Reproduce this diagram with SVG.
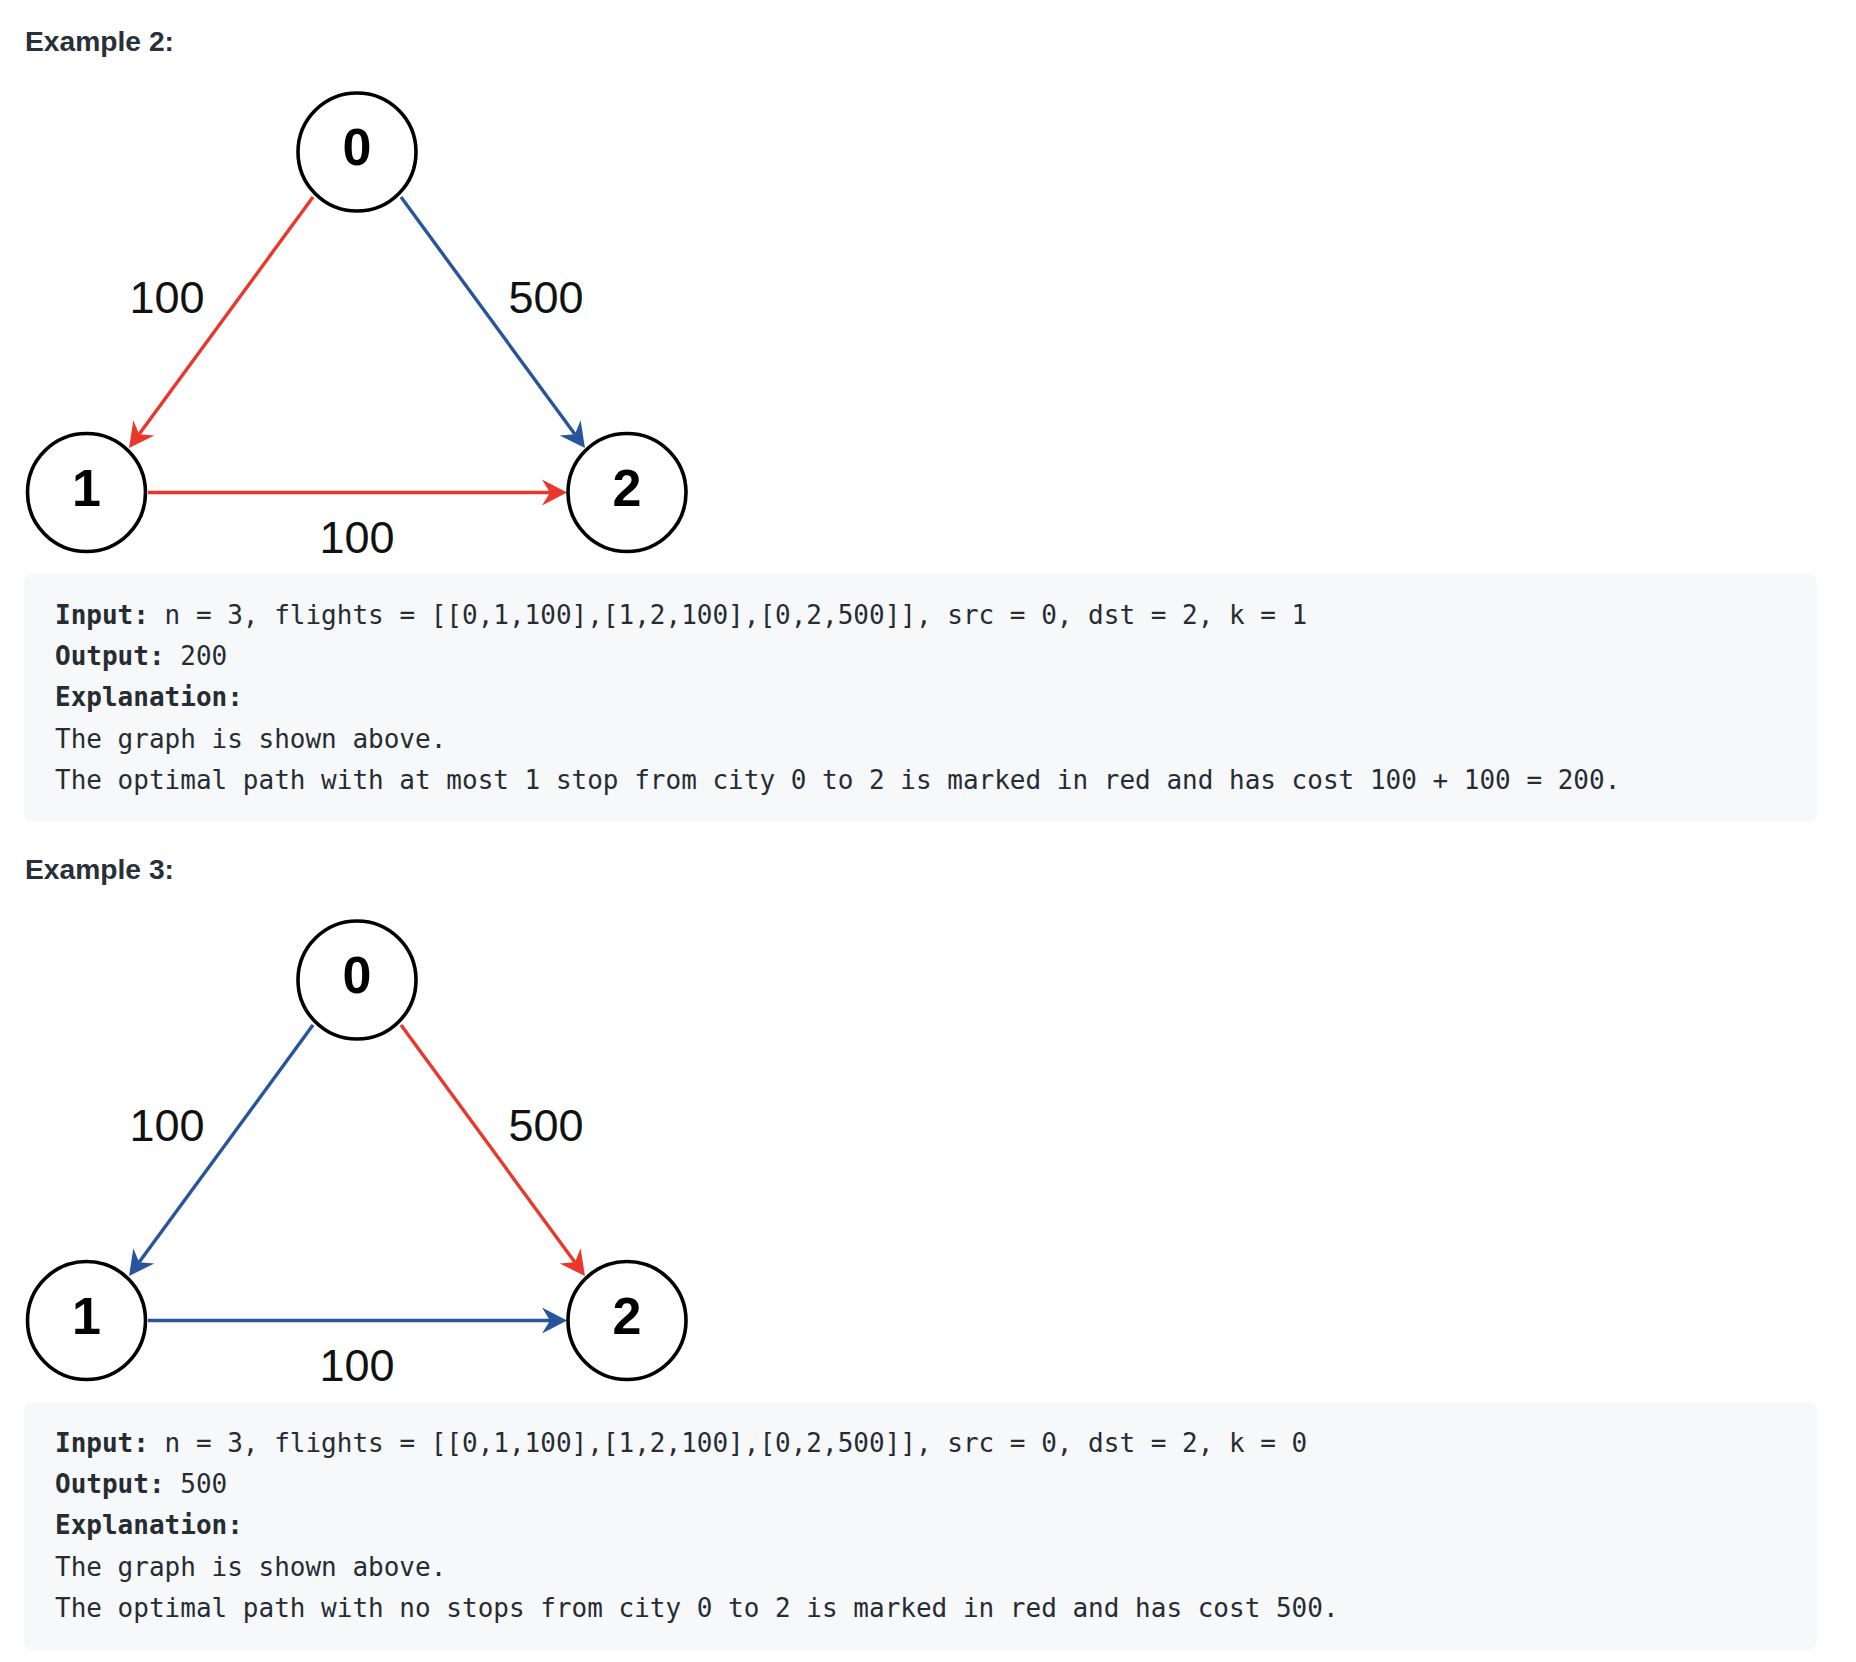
<svg xmlns="http://www.w3.org/2000/svg" width="1856" height="1662" viewBox="0 0 1856 1662">
  <style>
    .hdr { font-family: "Liberation Sans", Arial, sans-serif; font-weight: bold; font-size: 27px; fill: #283038; }
    .node circle { fill: #ffffff; stroke: #000000; stroke-width: 3.6; }
    .node text { font-family: "Liberation Sans", Arial, sans-serif; font-weight: bold; font-size: 52px; fill: #000000; text-anchor: middle; }
    .lbl { font-family: "Liberation Sans", Arial, sans-serif; font-size: 45px; fill: #111111; text-anchor: middle; }
    .red { stroke: #e9382b; stroke-width: 3.4; fill: none; marker-end: url(#ahRed); }
    .blue { stroke: #27549b; stroke-width: 3.4; fill: none; marker-end: url(#ahBlue); }
    .box { fill: #f7f8fa; }
    .code { font-family: "DejaVu Sans Mono", "Liberation Mono", monospace; font-size: 26px; fill: #262c33; }
    .b { font-weight: bold; }
  </style>
  <defs>
    <marker id="ahRed" markerUnits="userSpaceOnUse" viewBox="-26 -14 27 28" refX="-17" refY="0" markerWidth="27" markerHeight="28" orient="auto">
      <path d="M0,0 L-25,-13 L-17,0 L-25,13 Z" fill="#e9382b"/>
    </marker>
    <marker id="ahBlue" markerUnits="userSpaceOnUse" viewBox="-26 -14 27 28" refX="-17" refY="0" markerWidth="27" markerHeight="28" orient="auto">
      <path d="M0,0 L-25,-13 L-17,0 L-25,13 Z" fill="#27549b"/>
    </marker>
  </defs>

  <rect width="1856" height="1662" fill="#ffffff"/>

  <!-- Example 2 -->
  <text class="hdr" x="25" y="51" textLength="149" lengthAdjust="spacingAndGlyphs">Example 2:</text>

  <g id="connectors-ex2">
    <line class="red" x1="313" y1="197" x2="139.1" y2="434.3"/>
    <line class="blue" x1="401" y1="197" x2="574.9" y2="434.3"/>
    <line class="red" x1="148" y1="492.5" x2="550" y2="492.5"/>
    <text class="lbl" x="167" y="313">100</text>
    <text class="lbl" x="546" y="313">500</text>
    <text class="lbl" x="357" y="553">100</text>
  </g>

  <g id="ex2-node0" class="node">
    <circle cx="357" cy="152" r="59"/>
    <text x="357" y="165">0</text>
  </g>
  <g id="ex2-node1" class="node">
    <circle cx="86.5" cy="492.5" r="59"/>
    <text x="86.5" y="506">1</text>
  </g>
  <g id="ex2-node2" class="node">
    <circle cx="627" cy="492.5" r="59"/>
    <text x="627" y="506">2</text>
  </g>

  <g id="ex2-code">
    <rect class="box" x="24" y="574" width="1793" height="248" rx="8" ry="8"/>
    <text class="code" x="55" y="623.5" xml:space="preserve"><tspan class="b">Input:</tspan> n = 3, flights = [[0,1,100],[1,2,100],[0,2,500]], src = 0, dst = 2, k = 1</text>
    <text class="code" x="55" y="664.9" xml:space="preserve"><tspan class="b">Output:</tspan> 200</text>
    <text class="code b" x="55" y="706.3">Explanation:</text>
    <text class="code" x="55" y="747.7">The graph is shown above.</text>
    <text class="code" x="55" y="789.1">The optimal path with at most 1 stop from city 0 to 2 is marked in red and has cost 100 + 100 = 200.</text>
  </g>

  <!-- Example 3 -->
  <text class="hdr" x="25" y="879" textLength="149" lengthAdjust="spacingAndGlyphs">Example 3:</text>

  <g id="connectors-ex3">
    <line class="blue" x1="313" y1="1025" x2="139.1" y2="1262.3"/>
    <line class="red" x1="401" y1="1025" x2="574.9" y2="1262.3"/>
    <line class="blue" x1="148" y1="1320.5" x2="550" y2="1320.5"/>
    <text class="lbl" x="167" y="1141">100</text>
    <text class="lbl" x="546" y="1141">500</text>
    <text class="lbl" x="357" y="1381">100</text>
  </g>

  <g id="ex3-node0" class="node">
    <circle cx="357" cy="980" r="59"/>
    <text x="357" y="993">0</text>
  </g>
  <g id="ex3-node1" class="node">
    <circle cx="86.5" cy="1320.5" r="59"/>
    <text x="86.5" y="1334">1</text>
  </g>
  <g id="ex3-node2" class="node">
    <circle cx="627" cy="1320.5" r="59"/>
    <text x="627" y="1334">2</text>
  </g>

  <g id="ex3-code">
    <rect class="box" x="24" y="1402" width="1793" height="248" rx="8" ry="8"/>
    <text class="code" x="55" y="1451.5" xml:space="preserve"><tspan class="b">Input:</tspan> n = 3, flights = [[0,1,100],[1,2,100],[0,2,500]], src = 0, dst = 2, k = 0</text>
    <text class="code" x="55" y="1492.9" xml:space="preserve"><tspan class="b">Output:</tspan> 500</text>
    <text class="code b" x="55" y="1534.3">Explanation:</text>
    <text class="code" x="55" y="1575.7">The graph is shown above.</text>
    <text class="code" x="55" y="1617.1">The optimal path with no stops from city 0 to 2 is marked in red and has cost 500.</text>
  </g>
</svg>
